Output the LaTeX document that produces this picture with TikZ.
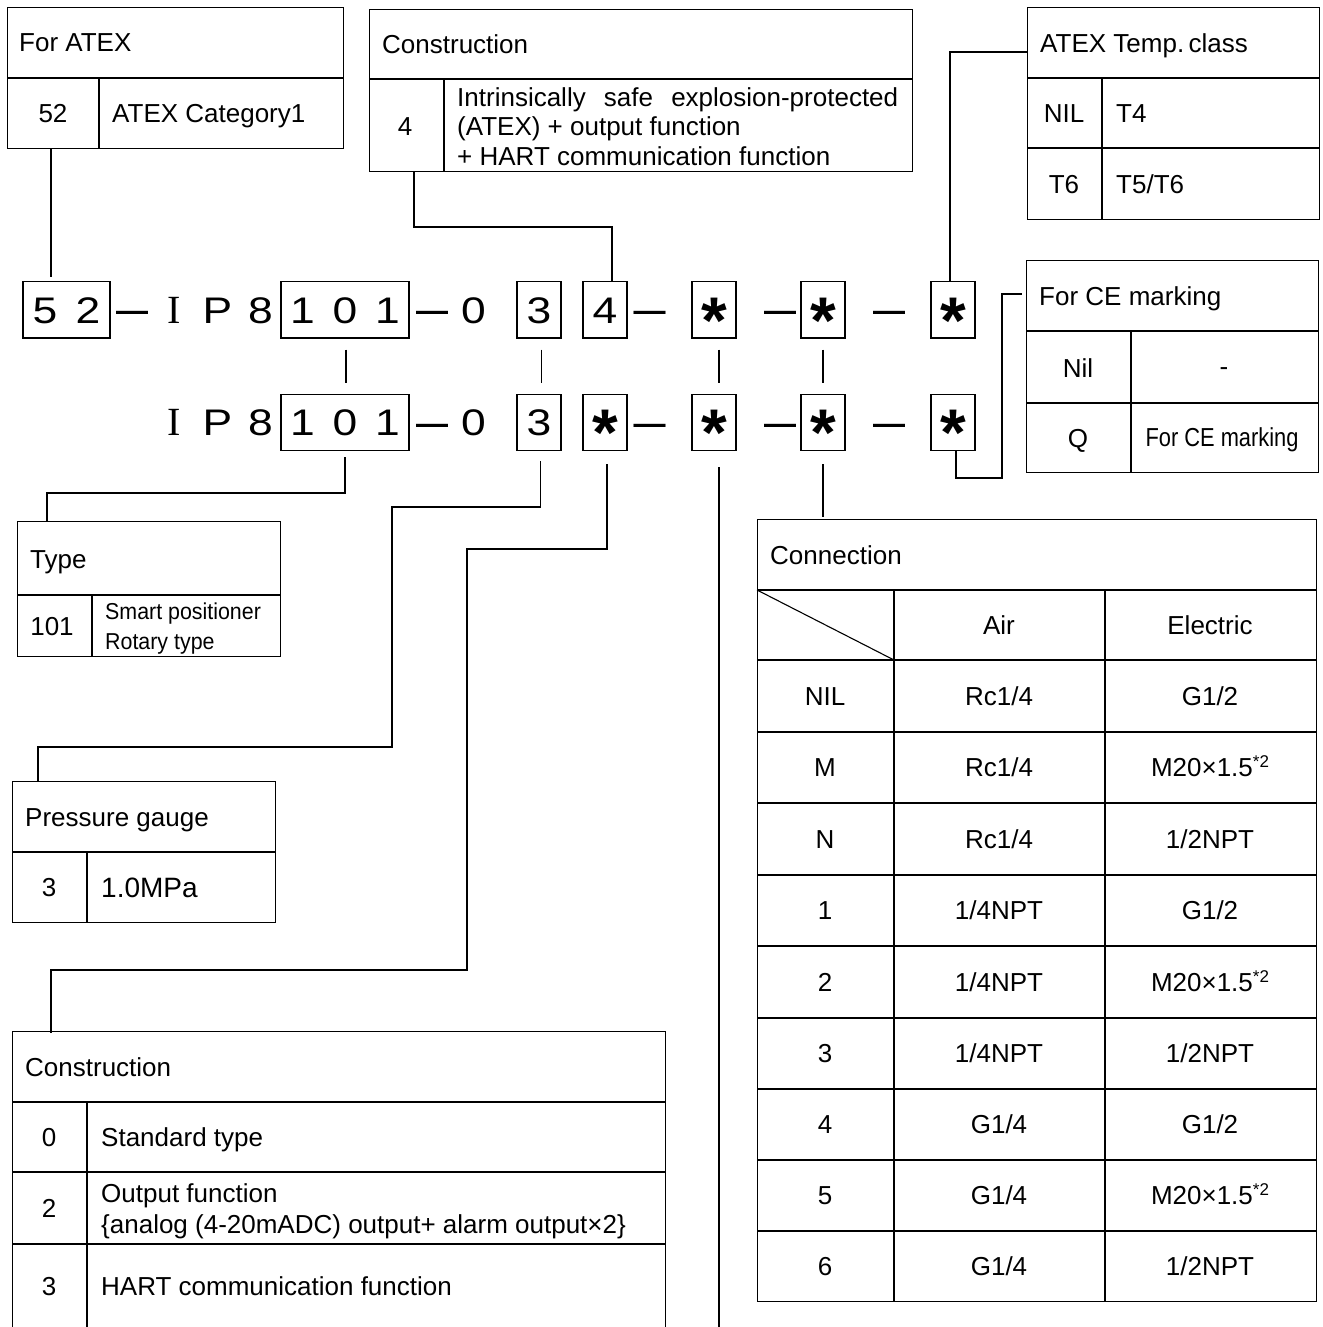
\documentclass[tikz,border=0pt]{standalone}
\usepackage{fontspec}
\setmainfont{Liberation Sans}
\newfontfamily\narrowf{Liberation Sans}[FakeStretch=0.84]
\newfontfamily\smallnf{Liberation Sans}[FakeStretch=0.93]
\newfontfamily\codef{Liberation Sans}[FakeStretch=1.2]
\newfontfamily\serifI{Liberation Serif}
\newcommand\cc[1]{\makebox[43pt]{#1}}
\newcommand\ccw[1]{\makebox[42.6pt]{#1}}
\newcommand\astk{\raisebox{-20pt}{\fontsize{66}{66}\selectfont\rmfamily\bfseries *}}
\newcommand\mysup{\raisebox{9pt}{\fontsize{17}{17}\selectfont *2}}
\tikzset{
  tbl/.style={draw, line width=1.3pt, anchor=north west, inner sep=0pt},
  cell/.style={line width=1.3pt},
  txt/.style={inner sep=0pt, text height=18.6pt, text depth=0pt, font=\fontsize{26}{30}\selectfont},
  lt/.style={txt, anchor=west},
  nt/.style={inner sep=0pt, text height=16pt, text depth=0pt, font=\narrowf\fontsize{26}{30}\selectfont},
  st/.style={inner sep=0pt, text height=16pt, text depth=0pt, anchor=west, font=\smallnf\fontsize{23}{26}\selectfont},
  conn/.style={line width=1.8pt},
  cbox/.style={draw, line width=1.4pt, minimum height=56.5pt, inner xsep=0pt, inner ysep=0pt,
     text height=26.5pt, text depth=0pt, font=\codef\fontsize{37}{40}\selectfont},
  ctext/.style={inner sep=0pt, text height=26.5pt, text depth=0pt, font=\codef\fontsize{37}{40}\selectfont},
  dashn/.style={inner sep=0pt, text height=23pt, text depth=0pt, font=\bfseries\fontsize{32}{34}\selectfont},
}
\begin{document}
\begin{tikzpicture}[x=1pt,y=-1pt]
\fill[white] (0,0) rectangle (1322,1327);
\useasboundingbox (0,0) rectangle (1322,1327);

% ---------- code row 1 ----------
\node[cbox, minimum width=87pt] (c52) at (66.5,309.75) {\cc{5}\cc{2}};
\node[dashn] (d1) at (132,309.75) {—};
\node[ctext] (ip1) at (217.5,309.75) {\cc{\serifI\fontsize{40}{40}\selectfont I}\cc{P}\cc{8}};
\node[cbox, minimum width=128pt] (c101) at (345,309.75) {\ccw{1}\ccw{0}\ccw{1}};
\node[dashn] (d2) at (432,309.75) {—};
\node[ctext] (z1) at (473.5,309.75) {0};
\node[cbox, minimum width=44pt] (c3) at (539,309.75) {3};
\node[cbox, minimum width=44pt] (c4) at (605,309.75) {4};
\node[dashn] (d3) at (649.5,309.75) {—};
\node[cbox, minimum width=44pt] (s1) at (714,309.75) {\astk};
\node[dashn] (d4) at (780,309.75) {—};
\node[cbox, minimum width=44pt] (s2) at (823,309.75) {\astk};
\node[dashn] (d5) at (889,309.75) {—};
\node[cbox, minimum width=44pt] (s3) at (953,309.75) {\astk};

% ---------- code row 2 ----------
\node[ctext] (ip2) at (217.5,422.5) {\cc{\serifI\fontsize{40}{40}\selectfont I}\cc{P}\cc{8}};
\node[cbox, minimum width=128pt] (c101b) at (345,422.5) {\ccw{1}\ccw{0}\ccw{1}};
\node[dashn] (e2) at (432,422.5) {—};
\node[ctext] (z2) at (473.5,422.5) {0};
\node[cbox, minimum width=44pt] (c3b) at (539,422.5) {3};
\node[cbox, minimum width=44pt] (s0b) at (605,422.5) {\astk};
\node[dashn] (e3) at (649.5,422.5) {—};
\node[cbox, minimum width=44pt] (s1b) at (714,422.5) {\astk};
\node[dashn] (e4) at (780,422.5) {—};
\node[cbox, minimum width=44pt] (s2b) at (823,422.5) {\astk};
\node[dashn] (e5) at (889,422.5) {—};
\node[cbox, minimum width=44pt] (s3b) at (953,422.5) {\astk};

% ---------- For ATEX ----------
\node[tbl, minimum width=336pt, minimum height=141pt] (tatex) at (7,7) {};
\draw[cell] (7,78) -- (343,78) (99,78) -- (99,148);
\node[lt] (tatexh) at (19,42) {For ATEX};
\node[txt] (tatexk) at (53,113) {52};
\node[lt] (tatexv) at (112,113) {ATEX Category1};

% ---------- Construction (top) ----------
\node[tbl, minimum width=543pt, minimum height=162pt] (tcons) at (369,9) {};
\draw[cell] (369,79) -- (912,79) (444,79) -- (444,171);
\node[lt] (tconsh) at (382,44) {Construction};
\node[txt] (tconsk) at (405,126) {4};
\node[lt] (tconsl1) at (457,97) {\makebox[441pt][s]{Intrinsically safe explosion-protected}};
\node[lt] (tconsl2) at (457,126) {(ATEX) + output function};
\node[lt] (tconsl3) at (457,156) {+ HART communication function};

% ---------- ATEX Temp. class ----------
\node[tbl, minimum width=292pt, minimum height=212pt] (ttemp) at (1027,7) {};
\draw[cell] (1027,78) -- (1319,78) (1027,148) -- (1319,148) (1102,78) -- (1102,219);
\node[lt] (ttemph) at (1040,43) {ATEX Temp.\,class};
\node[txt] (ttempk1) at (1064,113) {NIL};
\node[lt] (ttempv1) at (1116,113) {T4};
\node[txt] (ttempk2) at (1064,184) {T6};
\node[lt] (ttempv2) at (1116,184) {T5/T6};

% ---------- For CE marking ----------
\node[tbl, minimum width=292pt, minimum height=212pt] (tce) at (1026,260) {};
\draw[cell] (1026,331) -- (1318,331) (1026,403) -- (1318,403) (1131,331) -- (1131,472);
\node[lt] (tceh) at (1039,296) {For CE marking};
\node[txt] (tcek1) at (1078,368) {Nil};
\node[txt] (tcev1) at (1224,366) {-};
\node[txt] (tcek2) at (1078,438) {Q};
\node[nt] (tcev2) at (1222,438) {For CE marking};

% ---------- Type ----------
\node[tbl, minimum width=263pt, minimum height=135pt] (ttype) at (17,521) {};
\draw[cell] (17,595) -- (280,595) (92,595) -- (92,656);
\node[lt] (ttypeh) at (30,559) {Type};
\node[txt] (ttypek) at (52,626) {101};
\node[st] (ttypev1) at (105,611) {Smart positioner};
\node[st] (ttypev2) at (105,641) {Rotary type};

% ---------- Pressure gauge ----------
\node[tbl, minimum width=263pt, minimum height=141pt] (tgauge) at (12,781) {};
\draw[cell] (12,852) -- (275,852) (87,852) -- (87,922);
\node[lt] (tgaugeh) at (25,817) {Pressure gauge};
\node[txt] (tgaugek) at (49,887) {3};
\node[lt, text height=20.5pt, font=\fontsize{28}{32}\selectfont] (tgaugev) at (101,887) {1.0MPa};

% ---------- Construction (bottom) ----------
\node[tbl, minimum width=653pt, minimum height=320pt] (tconsb) at (12,1031) {};
\draw[cell] (12,1102) -- (665,1102) (12,1172) -- (665,1172) (12,1244) -- (665,1244) (87,1102) -- (87,1351);
\node[lt] (tconsbh) at (25,1067) {Construction};
\node[txt] (tconsbk0) at (49,1137) {0};
\node[lt] (tconsbv0) at (101,1137) {Standard type};
\node[txt] (tconsbk2) at (49,1208) {2};
\node[lt] (tconsbv2a) at (101,1193) {Output function};
\node[lt] (tconsbv2b) at (101,1224) {\{analog (4-20mADC) output+ alarm output×2\}};
\node[txt] (tconsbk3) at (49,1286) {3};
\node[lt] (tconsbv3) at (101,1286) {HART communication function};

% ---------- Connection ----------
\node[tbl, minimum width=559pt, minimum height=782pt] (tconn) at (757,519) {};
\foreach \yy in {590,660,732,803,875,946,1018,1089,1160,1231}
  \draw[cell] (757,\yy) -- (1316,\yy);
\draw[cell] (894,590) -- (894,1301) (1105,590) -- (1105,1301);
\draw[line width=1.1pt] (757,590) -- (894,660);
\node[lt] (tconnh) at (770,555) {Connection};
\node[txt] (tconnair) at (999,625) {Air};
\node[txt] (tconnel) at (1210,625) {Electric};
\foreach \k/\a/\b/\c/\yy in {1/NIL/Rc1\slash 4/G1\slash 2/696,
    2/M/Rc1\slash 4/M20×1.5\mysup/767.5,
    3/N/Rc1\slash 4/1\slash 2NPT/839,
    4/1/1\slash 4NPT/G1\slash 2/910.5,
    5/2/1\slash 4NPT/M20×1.5\mysup/982,
    6/3/1\slash 4NPT/1\slash 2NPT/1053.5,
    7/4/G1\slash 4/G1\slash 2/1124.5,
    8/5/G1\slash 4/M20×1.5\mysup/1195.5,
    9/6/G1\slash 4/1\slash 2NPT/1266}{
  \node[txt] (ck\k) at (825,\yy) {\a};
  \node[txt] (ca\k) at (999,\yy) {\b};
  \node[txt] (ce\k) at (1210,\yy) {\c};
}

% ---------- connectors ----------
\coordinate (b1) at (414,227);
\coordinate (b2) at (950,52);
\coordinate (b3) at (956,478);
\coordinate (b4) at (1002,294);
\coordinate (b5) at (47,493);
\coordinate (b6) at (392,507);
\coordinate (b7) at (38,747);
\coordinate (b8) at (467,549);
\coordinate (b9) at (51,970);
\coordinate (b10) at (719,1335);

\draw[conn, shorten >=4pt] ([xshift=-15.5pt]c52.north |- tatex.south) -- ([xshift=-15.5pt]c52.north);
\draw[conn] (b1 |- tcons.south) -- (b1) -| ([xshift=7pt]c4.north);
\draw[conn] (b2 -| ttemp.west) -- (b2) -- (b2 |- s3.north);
\draw[conn] ([xshift=3pt]s3b.south) |- (b3) -| (b4) -- ([xshift=-4pt]b4 -| tce.west);

\draw[conn, shorten <=11pt, shorten >=11pt] ([xshift=1pt]c101.south) -- ([xshift=1pt]c101b.north);
\draw[conn, shorten <=11pt, shorten >=11pt] ([xshift=2.5pt]c3.south) -- ([xshift=2.5pt]c3b.north);
\draw[conn, shorten <=11pt, shorten >=11pt] ([xshift=5pt]s1.south) -- ([xshift=5pt]s1b.north);
\draw[conn, shorten <=11pt, shorten >=11pt] (s2.south) -- (s2b.north);

\draw[conn, shorten <=6pt] (c101b.south) |- (b5) -- (b5 |- ttype.north);
\draw[conn, shorten <=10pt] ([xshift=1.5pt]c3b.south) |- (b6) |- (b7) -- (b7 |- tgauge.north);
\draw[conn, shorten <=13pt] ([xshift=2pt]s0b.south) |- (b8) |- (b9) -- ([yshift=-2pt]b9 |- tconsb.north);
\draw[conn, shorten <=16pt] (s1b.south -| b10) -- (b10);
\draw[conn, shorten <=13pt, shorten >=2pt] (s2b.south) -- (s2b.south |- tconn.north);
\end{tikzpicture}
\end{document}
